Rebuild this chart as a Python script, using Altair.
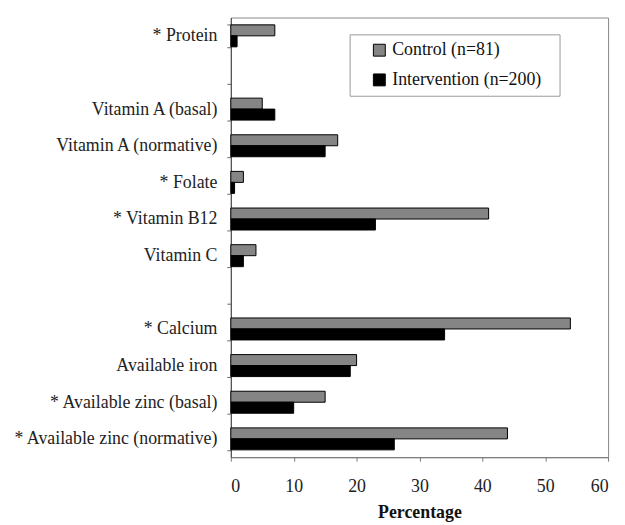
import altair as alt
import pandas as pd

categories = ["* Protein", " ", "Vitamin A (basal)", "Vitamin A (normative)", "* Folate",
              "* Vitamin B12", "Vitamin C", "  ", "* Calcium", "Available iron",
              "* Available zinc (basal)", "* Available zinc (normative)"]
control = [7, None, 5, 17, 2, 41, 4, None, 54, 20, 15, 44]
intervention = [1, None, 7, 15, 0.6, 23, 2, None, 34, 19, 10, 26]
groups = ["Control (n=81)", "Intervention (n=200)"]
group_colors = ["#858585", "#000000"]

rows = []
for c, v1, v2 in zip(categories, control, intervention):
    rows.append({"Nutrient": c, "Group": groups[0], "Percentage": v1})
    rows.append({"Nutrient": c, "Group": groups[1], "Percentage": v2})
df = pd.DataFrame(rows)

FONT = "'Liberation Serif', 'Times New Roman', Times, serif"

chart = alt.Chart(df).mark_bar(stroke="#000000", strokeWidth=1).encode(
    y=alt.Y("Nutrient:N", sort=categories,
            scale=alt.Scale(paddingInner=0.4, paddingOuter=0.2),
            axis=alt.Axis(title=None, tickBand="extent", tickSize=4, labelPadding=10,
                          labelFont=FONT, labelFontSize=18, labelColor="#222222",
                          domainColor="#444444", tickColor="#666666", labelLimit=300)),
    yOffset=alt.YOffset("Group:N", sort=groups),
    x=alt.X("Percentage:Q", scale=alt.Scale(domain=[0, 60]),
            axis=alt.Axis(values=[0, 10, 20, 30, 40, 50, 60], grid=False, tickSize=4,
                          labelPadding=17, labelFont=FONT, labelFontSize=18,
                          labelColor="#222222", domainColor="#777777", tickColor="#777777",
                          title="Percentage", titleFont=FONT, titleFontSize=18,
                          titleFontWeight="bold", titleColor="#111111", titlePadding=8)),
    color=alt.Color("Group:N", sort=groups,
                    scale=alt.Scale(domain=groups, range=group_colors),
                    legend=alt.Legend(title=" ", titleOrient="right", titlePadding=11,
                                      titleFontSize=6,
                                      orient="none", legendX=120, legendY=17,
                                      symbolType="square", symbolSize=144,
                                      symbolStrokeColor="#000000", symbolStrokeWidth=1,
                                      symbolOffset=14, labelOffset=4,
                                      labelFont=FONT, labelFontSize=18, labelColor="#111111",
                                      rowPadding=12, padding=7,
                                      strokeColor="#999999", fillColor="#ffffff")),
).properties(
    width=381, height=444,
    autosize=alt.AutoSizeParams(type="none"),
    padding={"left": 225, "top": 7, "right": 9, "bottom": 80},
).configure_view(stroke="#888888", strokeWidth=1)

chart.save("out.html", embed_options={"renderer": "svg", "actions": False})
